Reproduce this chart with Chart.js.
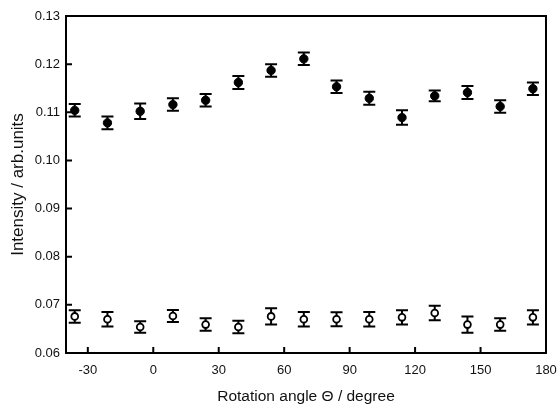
<!doctype html>
<html lang="en">
<head>
  <meta charset="utf-8">
  <title>Intensity vs rotation angle</title>
  <script src="https://cdn.jsdelivr.net/npm/chart.js@4/dist/chart.umd.min.js"></script>
  <style>
    body { margin: 0; background: #fff; }
    .grafico { width: 557px; height: 406px; }
  </style>
</head>
<body>
<div class="grafico">
  <canvas id="myChart" width="557" height="406"></canvas>
</div>

<script>
var angulos = [-36, -21, -6, 9, 24, 39, 54, 69, 84, 99, 114, 129, 144, 159, 174];
var llenos = [0.1104, 0.1078, 0.1102, 0.1116, 0.1125, 0.1162, 0.1187, 0.1211, 0.1153, 0.1129, 0.1089, 0.1134, 0.1141, 0.1112, 0.1149];
var llenosErr = [0.0013, 0.0013, 0.0016, 0.0013, 0.0013, 0.00135, 0.0013, 0.0013, 0.0013, 0.00135, 0.0015, 0.0011, 0.00135, 0.0013, 0.0013];
var vacios = [0.0676, 0.0670, 0.0654, 0.0677, 0.0659, 0.0654, 0.0676, 0.0670, 0.0670, 0.0670, 0.0674, 0.0683, 0.0659, 0.0659, 0.0674];
var vaciosErr = [0.0013, 0.0015, 0.0012, 0.00125, 0.0013, 0.0013, 0.0017, 0.0015, 0.00145, 0.0015, 0.0015, 0.0015, 0.0017, 0.0013, 0.0015];
var xTicks = [-30, 0, 30, 60, 90, 120, 150, 180];
var yTicks = [0.06, 0.07, 0.08, 0.09, 0.10, 0.11, 0.12, 0.13];

function puntos(ys, errs) {
  return angulos.map(function(a, i) { return {x: a, y: ys[i], e: errs[i]}; });
}

// error bars, drawn before the markers so the circles sit on top
const errorBars = {
  id: 'errorBars',
  beforeDatasetsDraw(chart) {
    const ctx = chart.ctx;
    const xs = chart.scales.x, ys = chart.scales.y;
    ctx.save();
    ctx.strokeStyle = '#000';
    ctx.lineWidth = 2;
    chart.data.datasets.forEach(function(ds) {
      ds.data.forEach(function(p) {
        var px = xs.getPixelForValue(p.x);
        var top = ys.getPixelForValue(p.y + p.e);
        var bot = ys.getPixelForValue(p.y - p.e);
        ctx.beginPath();
        ctx.moveTo(px, top); ctx.lineTo(px, bot);
        ctx.moveTo(px - 6, top); ctx.lineTo(px + 6, top);
        ctx.moveTo(px - 6, bot); ctx.lineTo(px + 6, bot);
        ctx.stroke();
      });
    });
    ctx.restore();
  }
};

// box round the plot and inward ticks
const marco = {
  id: 'marco',
  afterDraw(chart) {
    const ctx = chart.ctx;
    const a = chart.chartArea;
    const xs = chart.scales.x, ys = chart.scales.y;
    ctx.save();
    ctx.strokeStyle = '#000';
    ctx.lineWidth = 2;
    ctx.beginPath();
    xTicks.forEach(function(v) {
      var px = xs.getPixelForValue(v);
      ctx.moveTo(px, a.bottom); ctx.lineTo(px, a.bottom - 6);
    });
    yTicks.forEach(function(v) {
      var py = ys.getPixelForValue(v);
      ctx.moveTo(a.left, py); ctx.lineTo(a.left + 6, py);
    });
    ctx.stroke();
    ctx.strokeRect(a.left, a.top, a.right - a.left, a.bottom - a.top);
    ctx.restore();
  }
};

Chart.defaults.font.family = '"Liberation Sans", Arial, sans-serif';
Chart.defaults.color = '#111';

var ctx = document.getElementById('myChart').getContext('2d');
var myChart = new Chart(ctx, {
  type: 'scatter',
  data: {
    datasets: [{
      label: 'filled',
      data: puntos(llenos, llenosErr),
      pointStyle: 'circle',
      pointRadius: 4.2,
      backgroundColor: '#000',
      borderColor: '#000',
      borderWidth: 1
    }, {
      label: 'open',
      data: puntos(vacios, vaciosErr),
      pointStyle: 'circle',
      pointRadius: 3.4,
      backgroundColor: '#fff',
      borderColor: '#000',
      borderWidth: 1.8
    }]
  },
  plugins: [errorBars, marco],
  options: {
    responsive: false,
    animation: false,
    layout: {padding: {left: 0, top: 16, right: 11, bottom: 0}},
    plugins: {
      legend: {display: false},
      tooltip: {enabled: false}
    },
    scales: {
      x: {
        type: 'linear',
        min: -40,
        max: 180,
        afterBuildTicks: function(s) { s.ticks = xTicks.map(function(v) { return {value: v}; }); },
        afterFit: function(s) { s.height = 53; s.paddingLeft = 0; s.paddingRight = 0; },
        grid: {display: false, drawTicks: false},
        border: {display: false},
        ticks: {padding: 10, maxRotation: 0, font: {size: 13}, callback: function(v) { return v; }},
        title: {display: true, text: 'Rotation angle \u0398 / degree', font: {size: 15.5}, padding: {top: 0, bottom: 0}}
      },
      y: {
        type: 'linear',
        min: 0.06,
        max: 0.13,
        afterBuildTicks: function(s) { s.ticks = yTicks.map(function(v) { return {value: v}; }); },
        afterFit: function(s) { s.width = 66; s.paddingTop = 0; s.paddingBottom = 0; },
        grid: {display: false, drawTicks: false},
        border: {display: false},
        ticks: {padding: 6, font: {size: 13}, callback: function(v) { return v.toFixed(2); }},
        title: {display: true, text: 'Intensity / arb.units', font: {size: 17}, padding: {top: 8, bottom: 0}}
      }
    }
  }
});
</script>
</body>
</html>
